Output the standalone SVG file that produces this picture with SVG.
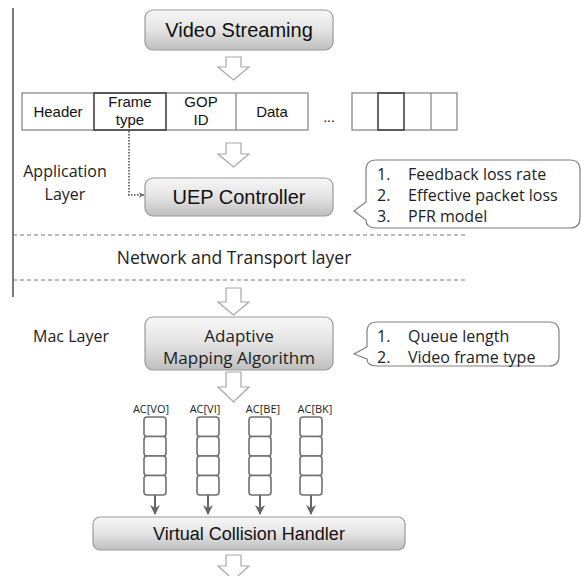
<svg xmlns="http://www.w3.org/2000/svg" width="585" height="576" viewBox="0 0 585 576">
<defs>
<linearGradient id="g" x1="0" y1="0" x2="0" y2="1">
<stop offset="0" stop-color="#f7f7f7"/>
<stop offset="0.5" stop-color="#e3e3e3"/>
<stop offset="1" stop-color="#bfbfbf"/>
</linearGradient>
<marker id="ah" viewBox="0 0 10 10" refX="9" refY="5" markerWidth="5" markerHeight="5" orient="auto" markerUnits="strokeWidth">
<path d="M0,0 L10,5 L0,10 L3,5 Z" fill="#666"/>
</marker>
<marker id="ahd" viewBox="0 0 10 10" refX="9" refY="5" markerWidth="6" markerHeight="6" orient="auto" markerUnits="userSpaceOnUse">
<path d="M0,0 L10,5 L0,10 L3,5 Z" fill="#777"/>
</marker>
</defs>
<style>
.box{fill:url(#g);stroke:#9a9a9a;stroke-width:1.2}
.ar{font-family:"Liberation Sans",Arial,sans-serif;fill:#111}
.ca{font-family:"Open Sans","Liberation Sans",sans-serif;fill:#222}
.hol{fill:#fff;stroke:#a8a8a8;stroke-width:1.2}
.cell{fill:#fff;stroke:#808080;stroke-width:1.2}
.bold{fill:none;stroke:#444;stroke-width:1.6}
.q{fill:#fff;stroke:#707070;stroke-width:1.6}
.dash{stroke:#777;stroke-width:1;stroke-dasharray:4,3;fill:none}
.call{fill:#fff;stroke:#808080;stroke-width:1.2}
.qa{stroke:#666;stroke-width:2}
</style>
<line x1="13" y1="8" x2="13" y2="297" stroke="#222" stroke-width="1.2"/>
<g id="video-streaming">
<rect class="box" x="145" y="10" width="188" height="40" rx="8"/>
<text class="ar" x="239" y="37" font-size="20" text-anchor="middle">Video Streaming</text>
</g>
<g id="packet">
<rect class="cell" x="22" y="93" width="286" height="37"/>
<line x1="236" y1="93" x2="236" y2="130" stroke="#808080" stroke-width="1.2"/>
<rect class="bold" x="94" y="93" width="72" height="37"/>
<text class="ar" x="58" y="117" font-size="15" text-anchor="middle">Header</text>
<text class="ar" x="130" y="107" font-size="15" text-anchor="middle">Frame</text>
<text class="ar" x="130" y="125" font-size="15" text-anchor="middle">type</text>
<text class="ar" x="201" y="107" font-size="15" text-anchor="middle">GOP</text>
<text class="ar" x="201" y="125" font-size="15" text-anchor="middle">ID</text>
<text class="ar" x="272" y="117" font-size="15" text-anchor="middle">Data</text>
<text class="ar" x="329" y="122" font-size="14" text-anchor="middle" fill="#333">...</text>
<rect class="cell" x="352" y="93" width="105" height="37"/>
<line x1="431" y1="93" x2="431" y2="130" stroke="#808080" stroke-width="1.2"/>
<rect class="bold" x="378" y="93" width="26" height="37"/>
</g>
<g id="application-layer">
<text class="ca" x="65" y="177" font-size="16" text-anchor="middle">Application</text>
<text class="ca" x="65" y="200" font-size="16" text-anchor="middle">Layer</text>
</g>
<g id="uep-controller">
<rect class="box" x="145" y="178" width="188" height="38" rx="8"/>
<text class="ar" x="239" y="204" font-size="20" text-anchor="middle">UEP Controller</text>
</g>
<g id="callout-uep">
<path class="call" d="M376,160 H570 Q580,160 580,170 V218 Q580,228 570,228 H376 Q366,228 366,220 L354,211 L366,202 V170 Q366,160 376,160 Z"/>
<text class="ca" x="377" y="180" font-size="16">1.</text>
<text class="ca" x="408" y="180" font-size="16">Feedback loss rate</text>
<text class="ca" x="377" y="201" font-size="16">2.</text>
<text class="ca" x="408" y="201" font-size="16">Effective packet loss</text>
<text class="ca" x="377" y="222" font-size="16">3.</text>
<text class="ca" x="408" y="222" font-size="16">PFR model</text>
</g>
<g id="network-transport">
<line class="dash" x1="13" y1="235" x2="468" y2="235"/>
<line class="dash" x1="13" y1="280" x2="468" y2="280"/>
<text class="ca" x="234" y="264" font-size="17.5" text-anchor="middle">Network and Transport layer</text>
</g>
<g id="mac-layer">
<text class="ca" x="71" y="342" font-size="16" text-anchor="middle">Mac Layer</text>
</g>
<g id="adaptive-mapping">
<rect class="box" x="145" y="317" width="188" height="53" rx="8"/>
<text class="ca" x="239" y="342" font-size="17" text-anchor="middle">Adaptive</text>
<text class="ca" x="239" y="364" font-size="17" text-anchor="middle">Mapping Algorithm</text>
</g>
<g id="callout-mac">
<path class="call" d="M377,322 H549 Q559,322 559,332 V356 Q559,366 549,366 H377 Q367,366 367,359 L354,354 L367,347 V332 Q367,322 377,322 Z"/>
<text class="ca" x="377" y="342" font-size="16">1.</text>
<text class="ca" x="408" y="342" font-size="16">Queue length</text>
<text class="ca" x="377" y="363" font-size="16">2.</text>
<text class="ca" x="408" y="363" font-size="16">Video frame type</text>
</g>
<g id="queues">
<text class="ca" x="151" y="413" font-size="11" text-anchor="middle">AC[VO]</text>
<text class="ca" x="205" y="413" font-size="11" text-anchor="middle">AC[VI]</text>
<text class="ca" x="263" y="413" font-size="11" text-anchor="middle">AC[BE]</text>
<text class="ca" x="315" y="413" font-size="11" text-anchor="middle">AC[BK]</text>
<g id="q-vo">
<rect class="q" x="144" y="417" width="22" height="19.5" rx="3"/>
<rect class="q" x="144" y="436.5" width="22" height="19.5" rx="3"/>
<rect class="q" x="144" y="456" width="22" height="19.5" rx="3"/>
<rect class="q" x="144" y="475.5" width="22" height="19.5" rx="3"/>
</g>
<g id="q-vi">
<rect class="q" x="197" y="417" width="22" height="19.5" rx="3"/>
<rect class="q" x="197" y="436.5" width="22" height="19.5" rx="3"/>
<rect class="q" x="197" y="456" width="22" height="19.5" rx="3"/>
<rect class="q" x="197" y="475.5" width="22" height="19.5" rx="3"/>
</g>
<g id="q-be">
<rect class="q" x="249" y="417" width="22" height="19.5" rx="3"/>
<rect class="q" x="249" y="436.5" width="22" height="19.5" rx="3"/>
<rect class="q" x="249" y="456" width="22" height="19.5" rx="3"/>
<rect class="q" x="249" y="475.5" width="22" height="19.5" rx="3"/>
</g>
<g id="q-bk">
<rect class="q" x="300" y="417" width="22" height="19.5" rx="3"/>
<rect class="q" x="300" y="436.5" width="22" height="19.5" rx="3"/>
<rect class="q" x="300" y="456" width="22" height="19.5" rx="3"/>
<rect class="q" x="300" y="475.5" width="22" height="19.5" rx="3"/>
</g>
</g>
<g id="virtual-collision-handler">
<rect class="box" x="93" y="517" width="312" height="33" rx="7"/>
<text class="ar" x="249" y="540" font-size="18" text-anchor="middle">Virtual Collision Handler</text>
</g>
<g id="connectors">
<path class="hol" d="M226,57 H241 V67 H249 L233.5,80 L218,67 H226 Z"/>
<path class="hol" d="M226,143 H241 V154 H249 L233.5,167 L218,154 H226 Z"/>
<path class="hol" d="M226,288 H241 V302 H249 L233.5,315 L218,302 H226 Z"/>
<path class="hol" d="M226,372 H241 V387 H249 L233.5,402 L218,387 H226 Z"/>
<path class="hol" d="M226,555 H241 V566 H249 L233.5,580 L218,566 H226 Z"/>
<polyline points="129,131 129,195 144,195" fill="none" stroke="#777" stroke-width="2" stroke-dasharray="1.5,1.5" marker-end="url(#ahd)"/>
<line class="qa" x1="155" y1="495" x2="155" y2="514" marker-end="url(#ah)"/>
<line class="qa" x1="208" y1="495" x2="208" y2="514" marker-end="url(#ah)"/>
<line class="qa" x1="260" y1="495" x2="260" y2="514" marker-end="url(#ah)"/>
<line class="qa" x1="311" y1="495" x2="311" y2="514" marker-end="url(#ah)"/>
</g>
</svg>
